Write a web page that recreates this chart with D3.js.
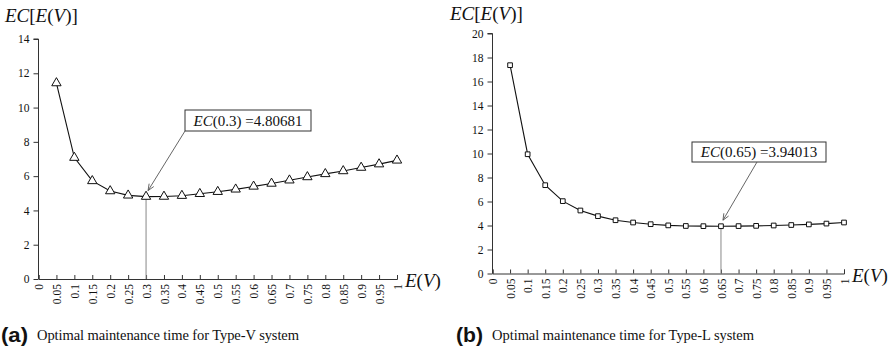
<!DOCTYPE html>
<html>
<head>
<meta charset="utf-8">
<script src="https://cdn.jsdelivr.net/npm/d3@7/dist/d3.min.js"></script>
<style>
  body { margin: 0; background: #fff; }
  svg { display: block; }
</style>
</head>
<body>
<svg width="894" height="352"></svg>
<script>
// E(V) values
const ev = [0.05, 0.1, 0.15, 0.2, 0.25, 0.3, 0.35, 0.4, 0.45, 0.5,
            0.55, 0.6, 0.65, 0.7, 0.75, 0.8, 0.85, 0.9, 0.95, 1];
// expected cost, Type-V system
const costV = [11.43, 7.08, 5.72, 5.13, 4.88, 4.80681, 4.81, 4.86, 4.97, 5.09,
               5.23, 5.40, 5.57, 5.76, 5.95, 6.13, 6.30, 6.50, 6.70, 6.92];
// expected cost, Type-L system
const costL = [17.36, 9.94, 7.36, 6.03, 5.25, 4.78, 4.44, 4.25, 4.11, 4.01,
               3.96, 3.945, 3.94013, 3.95, 3.97, 4.00, 4.04, 4.09, 4.16, 4.25];
const xTicks = ["0", "0.05", "0.1", "0.15", "0.2", "0.25", "0.3", "0.35", "0.4", "0.45", "0.5",
                "0.55", "0.6", "0.65", "0.7", "0.75", "0.8", "0.85", "0.9", "0.95", "1"];
const yTicksV = [0, 2, 4, 6, 8, 10, 12, 14];
const yTicksL = [0, 2, 4, 6, 8, 10, 12, 14, 16, 18, 20];

const SERIF = "'Liberation Serif', 'Times New Roman', serif";
const svg = d3.select("svg");

function drawPanel(p) {
  const x = d3.scaleLinear().domain([0, 1]).range(p.xr);
  const y = d3.scaleLinear().domain([0, d3.max(p.yTicks)]).range(p.yr);
  const g = svg.append("g");

  // y axis (ticks outward)
  const yAxis = g.append("g")
    .attr("transform", `translate(${p.xr[0]},0)`)
    .call(d3.axisLeft(y).tickValues(p.yTicks).tickSize(5).tickPadding(4));
  // x axis (ticks inward)
  const xAxis = g.append("g")
    .attr("transform", `translate(0,${p.yr[0]})`)
    .call(d3.axisBottom(x).tickValues(d3.range(xTicks.length).map(i => i / 20))
      .tickSize(-4).tickFormat((d, i) => xTicks[i]));
  [yAxis, xAxis].forEach(a => {
    a.attr("font-family", SERIF).attr("font-size", 11.5);
    a.selectAll(".domain").attr("stroke", "#333");
    a.selectAll(".tick line").attr("stroke", "#333");
    a.selectAll("text").attr("fill", "#111");
  });
  yAxis.select(".domain").attr("d", `M-5,${p.yr[1]}H0V${p.yr[0]}`);
  xAxis.selectAll("text")
    .attr("transform", "rotate(-90)")
    .attr("text-anchor", "end")
    .attr("dy", "0.35em")
    .attr("x", -5)
    .attr("y", 0);

  // axis titles
  const t1 = g.append("text").attr("font-family", SERIF).attr("font-size", 19)
    .attr("x", p.titleX).attr("y", p.titleY).attr("fill", "#111");
  t1.append("tspan").attr("font-style", "italic").text("EC");
  t1.append("tspan").text("[");
  t1.append("tspan").attr("font-style", "italic").text("E");
  t1.append("tspan").text("(");
  t1.append("tspan").attr("font-style", "italic").text("V");
  t1.append("tspan").text(")]");

  const t2 = g.append("text").attr("font-family", SERIF).attr("font-size", 19)
    .attr("x", p.xr[1] + 8).attr("y", p.yr[0] + 8).attr("fill", "#111");
  t2.append("tspan").attr("font-style", "italic").text("E");
  t2.append("tspan").text("(");
  t2.append("tspan").attr("font-style", "italic").text("V");
  t2.append("tspan").text(")");

  // minimum drop line
  const iMin = p.data.indexOf(d3.min(p.data));
  g.append("line")
    .attr("x1", x(ev[iMin])).attr("x2", x(ev[iMin]))
    .attr("y1", y(p.data[iMin])).attr("y2", y(0))
    .attr("stroke", "#888").attr("stroke-width", 1);

  // series line
  g.append("path")
    .datum(p.data)
    .attr("fill", "none").attr("stroke", "#111").attr("stroke-width", 1.1)
    .attr("d", d3.line().x((d, i) => x(ev[i])).y(d => y(d)));

  // markers
  g.selectAll(".m")
    .data(p.data)
    .join("path")
    .attr("transform", (d, i) => `translate(${x(ev[i])},${y(d)})`)
    .attr("d", d3.symbol().type(p.symbol).size(p.symSize))
    .attr("fill", "#fff").attr("stroke", "#111").attr("stroke-width", 1);

  // annotation box + arrow
  const b = p.box;
  g.append("rect")
    .attr("x", b.x).attr("y", b.y).attr("width", b.w).attr("height", b.h)
    .attr("fill", "#fff").attr("stroke", "#333").attr("stroke-width", 1);
  const lab = g.append("text").attr("font-family", SERIF).attr("font-size", 15)
    .attr("x", b.x + b.w / 2).attr("y", b.y + b.h / 2 + 5)
    .attr("text-anchor", "middle").attr("fill", "#111");
  lab.append("tspan").attr("font-style", "italic").text("EC");
  lab.append("tspan").text(`(${ev[iMin]}) =${p.data[iMin]}`);

  const tipX = x(ev[iMin]) + 2, tipY = y(p.data[iMin]) - 6;
  const sx = b.x + b.ax, sy = b.y + b.h;
  g.append("line")
    .attr("x1", sx).attr("y1", sy).attr("x2", tipX).attr("y2", tipY)
    .attr("stroke", "#555").attr("stroke-width", 0.9);
  const ang = Math.atan2(tipY - sy, tipX - sx);
  const L = 7, w = 0.4;
  g.append("path")
    .attr("d", `M${tipX - L * Math.cos(ang - w)},${tipY - L * Math.sin(ang - w)}L${tipX},${tipY}L${tipX - L * Math.cos(ang + w)},${tipY - L * Math.sin(ang + w)}`)
    .attr("fill", "none").attr("stroke", "#555").attr("stroke-width", 0.9);
}

drawPanel({
  data: costV, yTicks: yTicksV,
  xr: [38.5, 397], yr: [279, 39],
  titleX: 5, titleY: 22,
  symbol: d3.symbolTriangle, symSize: 38,
  box: { x: 185, y: 110, w: 126, h: 21, ax: 0 }
});
drawPanel({
  data: costL, yTicks: yTicksL,
  xr: [492.5, 844], yr: [273.5, 33.5],
  titleX: 450, titleY: 20,
  symbol: d3.symbolSquare, symSize: 22,
  box: { x: 692, y: 142, w: 134, h: 20, ax: 65 }
});

// captions
const captions = [
  { x: 0, tag: "(a)", text: "Optimal maintenance time for Type-V system" },
  { x: 455, tag: "(b)", text: "Optimal maintenance time for Type-L system" }
];
captions.forEach(c => {
  svg.append("text")
    .attr("x", c.x + 1).attr("y", 342)
    .attr("font-family", "'Liberation Sans', Arial, sans-serif")
    .attr("font-weight", "bold").attr("font-size", 21).attr("fill", "#111")
    .attr("textLength", 27).attr("lengthAdjust", "spacingAndGlyphs")
    .text(c.tag);
  svg.append("text")
    .attr("font-family", SERIF)
    .attr("x", c.x + 37).attr("y", 340)
    .attr("font-size", 14.5).attr("fill", "#111")
    .attr("textLength", 262)
    .text(c.text);
});
</script>
</body>
</html>
